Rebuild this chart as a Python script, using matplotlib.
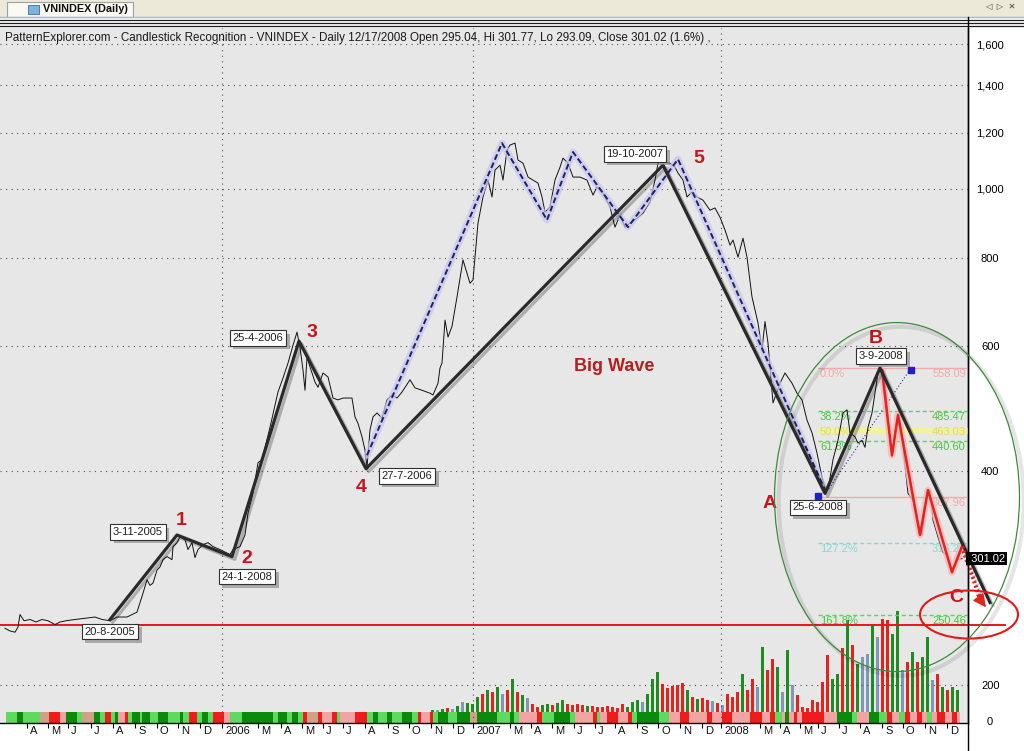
import matplotlib.pyplot as plt
import matplotlib.patheffects as pe
from matplotlib.patches import Ellipse, Rectangle
from matplotlib.lines import Line2D
from matplotlib.transforms import IdentityTransform
from matplotlib.ticker import NullLocator

plt.rcParams['font.family'] = ['Liberation Sans', 'DejaVu Sans']

# x = trading session index, first tick of each month
month_pos = [27, 48, 68, 91, 113, 135, 157, 178, 200,
             222, 258, 281, 302, 323, 343, 365, 388, 409, 431, 453,
             473, 510, 531, 552, 574, 595, 615, 637, 658, 680, 702,
             721, 760, 780, 800, 818, 839, 860, 882, 903, 925, 947]
month_lab = ['A', 'M', 'J', 'J', 'A', 'S', 'O', 'N', 'D',
             '2006', 'M', 'A', 'M', 'J', 'J', 'A', 'S', 'O', 'N', 'D',
             '2007', 'M', 'A', 'M', 'J', 'J', 'A', 'S', 'O', 'N', 'D',
             '2008', 'M', 'A', 'M', 'J', 'J', 'A', 'S', 'O', 'N', 'D']

price_ticks = [200, 400, 600, 800, 1000, 1200, 1400, 1600]
price_tick_lab = ['200', '400', '600', '800', '1,000', '1,200', '1,400', '1,600']

# VNINDEX close
price_x = [5, 10, 15, 18, 20, 24, 30, 36, 42, 48, 55, 60, 66, 75, 85, 95, 102, 110,
           117, 127, 137, 143, 147, 150, 153, 157, 160, 163, 167, 172, 173, 177, 180, 185, 188, 192,
           195, 198, 203, 208, 213, 220, 226, 230, 233, 240, 245, 248, 253, 258, 262, 270, 278, 283,
           288, 293, 297, 300, 303, 305, 307, 310, 315, 318, 323, 328, 333, 338, 343, 348, 352, 355,
           358, 362, 365, 367, 370, 373, 377, 382, 387, 392, 397, 402, 410, 415, 422, 430, 433, 438,
           440, 442, 445, 448, 452, 457, 463, 470, 473, 478, 483, 488, 492, 495, 500, 503, 507, 510,
           515, 518, 523, 528, 533, 538, 542, 545, 550, 555, 560, 563, 568, 573, 580, 587, 593, 597,
           603, 610, 615, 620, 625, 630, 637, 643, 650, 655, 658, 663, 670, 675, 678, 683, 687, 692,
           697, 703, 710, 715, 720, 725, 730, 733, 738, 743, 747, 752, 758, 762, 765, 768, 773, 780,
           785, 792, 797, 802, 807, 812, 817, 822, 825, 828, 833, 838, 843, 847, 850, 855, 858, 862,
           865, 868, 872, 875, 878, 882, 885, 888, 892, 895, 900, 903, 908, 913, 918, 922, 927, 930,
           933, 938, 943, 947, 952, 957, 962]
price_y = [240, 238, 237, 241, 251, 246, 247, 245, 247, 246, 243, 245, 246, 247, 248, 249, 247, 246,
           249, 249, 253, 269, 281, 276, 278, 290, 293, 300, 303, 300, 313, 317, 323, 320, 310, 317,
           302, 310, 315, 317, 313, 310, 307, 305, 310, 313, 325, 349, 372, 411, 415, 461, 517, 541,
           568, 602, 628, 598, 555, 520, 579, 561, 534, 525, 550, 543, 507, 504, 507, 507, 507, 477,
           467, 447, 428, 405, 457, 477, 483, 475, 504, 512, 507, 517, 538, 524, 520, 515, 512, 532,
           559, 568, 653, 618, 640, 704, 794, 736, 744, 895, 974, 1029, 974, 1063, 1080, 1029, 1134, 1153,
           1160, 1098, 1087, 1039, 1029, 1019, 974, 927, 943, 1029, 1073, 1105, 1087, 1039, 1039, 1029, 980, 1006,
           986, 943, 883, 918, 883, 895, 909, 924, 958, 1029, 1087, 1091, 1087, 1073, 1053, 1029, 974, 990,
           974, 964, 933, 940, 912, 875, 833, 847, 801, 852, 801, 704, 647, 593, 650, 606, 499, 532,
           550, 532, 515, 504, 472, 453, 424, 392, 380, 376, 415, 442, 483, 488, 453, 447, 438, 442,
           432, 461, 483, 515, 550, 555, 543, 472, 419, 457, 472, 432, 372, 364, 338, 325, 372, 376,
           341, 323, 307, 305, 290, 300, 301]
last_close = 301.02

# Elliott wave pivots (thick black line)
wave_x = [110, 177, 232, 299, 366, 663, 825, 880, 990]
wave_y = [247, 325, 303, 610, 403, 1080, 372, 559, 261]
wave_dates = ['20-8-2005', '3-11-2005', '24-1-2008', '25-4-2006', '27-7-2006',
              '19-10-2007', '25-6-2008', '3-9-2008', None]
wave_names = [None, '1', '2', '3', '4', '5', 'A', 'B', 'C']

# inner swings (dashed navy) and C-leg sub-waves (red)
dash_x = [367, 502, 547, 573, 628, 678, 825]
dash_y = [421, 1160, 904, 1127, 883, 1101, 376]
red_x = [882, 892, 898, 920, 928, 952, 962]
red_y = [555, 421, 480, 325, 376, 288, 313]
target_y = 257
support_y = 243

# Fibonacci projection of the A-B swing
fib_start = 818
fib_pct = ['0.0%', '38.2%', '50.0%', '61.8%', '100.0%', '127.2%', '161.8%']
fib_val = [558.09, 485.47, 463.03, 440.60, 367.96, 316.24, 250.46]

# weekly volume (5-session bins from session 430)
vol_start = 430
vol = [2, 2, 3, 4, 3, 6, 10, 9, 8, 15, 18, 22, 20, 25, 18, 22, 33, 20, 17, 14,
       8, 5, 7, 8, 7, 9, 12, 8, 7, 8, 7, 6, 6, 5, 5, 6, 5, 4, 8, 5,
       10, 12, 10, 18, 33, 40, 28, 24, 26, 27, 29, 22, 15, 13, 14, 12, 11, 9, 7, 18,
       15, 20, 38, 22, 33, 25, 65, 42, 53, 45, 20, 62, 27, 17, 5, 4, 12, 10, 30, 57,
       33, 38, 64, 92, 67, 48, 55, 58, 87, 75, 93, 92, 78, 101, 42, 50, 60, 50, 55, 75,
       32, 38, 25, 22, 25, 22]
vol_col = ('gbgrbg' 'bgggrgrgbr' 'grgbrrggrg' 'grrrrgrrrr' 'rrrgggbggg' 'rrrrrgrgrr'
           'brbrrrgrrb' 'grrgbgbrrr' 'rrrrggrgrg' 'bbgbrrggbr' 'grggbrgrgg')

# indicator strip under the volume bars (segment starts, last value = end)
strip_start = [6, 17, 23, 40, 49, 60, 66, 77, 82, 94, 100, 105, 111, 115, 118, 125, 128, 132, 140, 142,
               150, 158, 168, 180, 183, 189, 197, 202, 208, 213, 224, 230, 242, 273, 278, 287, 292, 298, 303, 307,
               318, 322, 332, 337, 340, 355, 367, 373, 378, 387, 392, 402, 412, 418, 421, 430, 433, 438, 448, 457,
               470, 477, 497, 510, 514, 519, 537, 542, 554, 570, 575, 593, 597, 600, 607, 618, 628, 632, 637, 659,
               669, 680, 689, 707, 712, 722, 732, 750, 762, 770, 775, 782, 785, 789, 794, 797, 802, 824, 837, 852,
               857, 869, 879, 887, 892, 899, 905, 910, 917, 922, 927, 932, 937, 945, 952, 957, 960]
strip_code = ('gGgtrpGgtGgrgGprgGgG' 'gGgGgrgGgrpgGgGgGgrt' 'rprgprgGgGgGgrprgGgG'
              'tGgGgprgGgprgprprgGg' 'prprprprprgpGprprpGg' 'pGgrpgrprpgprprp')

col_vol = {'g': '#1E8C1E', 'r': '#E5221B', 'b': '#7F98BA'}
col_strip = {'G': '#0B8A0B', 'g': '#5EDB5E', 'p': '#F4A3A3', 'r': '#EE1C1C', 't': '#CFA286'}
dark_red = '#C4161C'

W, H = 1024, 751
fig = plt.figure(figsize=(W / 100, H / 100), dpi=100, facecolor='white')
rect = [0, (H - 723) / H, 968 / W, (723 - 28) / H]

# volume pane (drawn underneath the price pane)
vax = fig.add_axes(rect)
vax.set_facecolor('#E7E7E7')
vax.set_xlim(0, 968)
vax.set_ylim(-11, 684)
vax.set_xticks([])
vax.set_yticks([])
for s in vax.spines.values():
    s.set_visible(False)
for i, c in enumerate(strip_code):
    vax.bar(strip_start[i], 11, width=strip_start[i + 1] - strip_start[i], bottom=-11,
            align='edge', color=col_strip[c], linewidth=0)
vx = [vol_start + 5 * i + 2.5 for i in range(len(vol))]
vax.bar(vx, vol, width=3.2, color=[col_vol[c] for c in vol_col], linewidth=0)

# price pane
ax = fig.add_axes(rect, facecolor='none')
ax.set_yscale('log')
ax.set_xlim(0, 968)
ax.set_ylim(176.5, 1686)
for s in ['top', 'left']:
    ax.spines[s].set_visible(False)
ax.spines['bottom'].set_linewidth(1.0)
ax.spines['right'].set_linewidth(1.0)

ax.yaxis.tick_right()
ax.set_yticks(price_ticks)
ax.set_yticklabels(price_tick_lab)
ax.yaxis.set_minor_locator(NullLocator())
ax.tick_params(axis='y', length=0, pad=16, labelsize=8)
for lbl in ax.get_yticklabels():
    lbl.set_ha('center')

ax.set_xticks(month_pos)
ax.set_xticklabels([])
ax.tick_params(axis='x', direction='out', length=3.5, width=0.8)
for p, lab in zip(month_pos, month_lab):
    ax.text(p + 3, -0.012, lab, transform=ax.get_xaxis_transform(), ha='left', va='center',
            fontsize=8, color='#111111')
    if len(lab) == 4:
        ax.axvline(p, color='#505050', lw=0.8, ls=(0, (1, 4)), zorder=1)
for v in price_ticks:
    ax.axhline(v, color='#505050', lw=0.8, ls=(0, (1, 4)), zorder=1)

# support line
ax.plot([0, 1005], [support_y, support_y], color='#E8161B', lw=1.4, clip_on=False, zorder=3)

# price
ax.plot(price_x, price_y, color='#111111', lw=0.7, zorder=4)

# dashed inner swings with glow
ax.plot(dash_x, dash_y, color='#C6C6EE', lw=5, alpha=0.7, solid_capstyle='round', zorder=4)
ax.plot(dash_x, dash_y, color='#1E1E6A', lw=1.4, ls=(0, (3, 1.6)), zorder=5)

# A -> B dotted projection with anchors
ax.plot([829, 910], [378, 556], color='#2B2B8C', lw=0.8, ls=(0, (1, 2)), zorder=5)
ax.plot([818, 911], [369, 556], ls='none', marker='s', ms=4, color='#2020C8', zorder=6)

# Fibonacci levels
fib_style = {'0.0%': ('#F2AAAA', '-'), '100.0%': ('#F2AAAA', '-'),
             '38.2%': ('#55D855', (0, (3, 2))), '61.8%': ('#55D855', (0, (3, 2))),
             '161.8%': ('#55D855', (0, (3, 2))), '127.2%': ('#8AD6D6', (0, (3, 2))),
             '50.0%': ('#F0F08C', '-')}
for name, val in zip(fib_pct, fib_val):
    c, ls = fib_style[name]
    if name == '50.0%':
        ax.fill_between([fib_start, 968], val * 0.975, val * 0.995, color='#F2F29A', lw=0, zorder=3)
        tc = '#DADA78'
    else:
        ax.plot([fib_start, 968], [val, val], color=c, lw=1.0, ls=ls, zorder=3)
        tc = c if name not in ('38.2%', '61.8%', '161.8%') else '#3FCB3F'
    if name != '100.0%':
        # the 100% tag sits under the 25-6-2008 box in the original
        ax.annotate(name, (fib_start + 2, val), xytext=(0, -1), textcoords='offset pixels',
                    ha='left', va='top', fontsize=8, color=tc, zorder=3)
    ax.annotate('%.2f' % val, (966, val), xytext=(0, -1), textcoords='offset pixels',
                ha='right', va='top', fontsize=8, color=tc, zorder=3)

# C-leg red sub-waves with glow
ax.plot(red_x, red_y, color='#F6B8B8', lw=5, alpha=0.8, solid_capstyle='round', zorder=6)
ax.plot(red_x, red_y, color='#E2231F', lw=1.8, zorder=7)

# main wave
ax.plot(wave_x, wave_y, color='#2A2A2A', lw=2.3, clip_on=False, zorder=8,
        path_effects=[pe.SimpleLineShadow(offset=(2, -2), alpha=0.25), pe.Normal()])

# projected target arrow
ax.plot([red_x[-1], 981], [red_y[-1], target_y * 1.02], color='#E2231F', lw=3.0,
        ls=(0, (0.5, 0.6)), clip_on=False, zorder=9,
        path_effects=[pe.SimpleLineShadow(offset=(2, -2), alpha=0.2), pe.Normal()])
ax.annotate('', xy=(986, target_y), xytext=(977, target_y * 1.04),
            arrowprops=dict(arrowstyle='-|>', color='#E2231F', lw=1, mutation_scale=20,
                            shrinkA=0, shrinkB=0),
            annotation_clip=False, zorder=9)

# date boxes
date_off = [(0, -12), (-39, 3), (15, -20), (-41, 3), (41, -7), (-28, 11), (-7, -14), (1, 12)]
for x, y, d, off in zip(wave_x, wave_y, wave_dates, date_off):
    t = ax.annotate(d, (x, y), xytext=off, textcoords='offset pixels', ha='center', va='center',
                    fontsize=8, color='#202020', zorder=10,
                    bbox=dict(boxstyle='square,pad=0.25', fc='white', ec='#303030', lw=0.8))
    t.get_bbox_patch().set_path_effects([pe.SimplePatchShadow(offset=(2.5, -2.5),
                                                              shadow_rgbFace='#808080', alpha=0.6),
                                         pe.Normal()])

# wave numbers
name_off = [(4, 14), (15, -2), (13, 9), (-5, -19), (36, 7), (-55, -10), (-4, 29), (-34, 5)]
for x, y, n, off in zip(wave_x[1:], wave_y[1:], wave_names[1:], name_off):
    ax.annotate(n, (x, y), xytext=off, textcoords='offset pixels', ha='center', va='center',
                fontsize=14, fontweight='bold', color=dark_red, zorder=10, annotation_clip=False)

ax.text(614, 562, 'Big Wave', ha='center', va='center', fontsize=13, fontweight='bold',
        color='#B3201E', zorder=10)

# ellipses (sizes in pixels, centred on data points)
def px_ellipse(xd, yd, w, h, **kw):
    cx, cy = ax.transData.transform((xd, yd))
    e = Ellipse((cx, cy), w, h, transform=IdentityTransform(), fill=False, **kw)
    fig.add_artist(e)
    return e

px_ellipse(897, 367.6, 245, 349, ec='#3C8A3C', lw=0.9, zorder=9,
           path_effects=[pe.SimpleLineShadow(offset=(3, -3), alpha=0.1, linewidth=3), pe.Normal()])
px_ellipse(969, 251, 98, 48, ec='#E01A1A', lw=1.5, zorder=9)

# last price tag
ax.text(1.0, last_close, ' %.2f' % last_close, transform=ax.get_yaxis_transform(), ha='left',
        va='center', color='white', fontsize=8,
        bbox=dict(boxstyle='square,pad=0.15', fc='black', ec='none'), clip_on=False, zorder=11)

fig.text(990 / W, 1 - 722 / H, '0', ha='center', va='center', fontsize=8)

# title line
fig.text(5 / W, 1 - 38 / H, 'PatternExplorer.com - Candlestick Recognition - VNINDEX - Daily 12/17/2008 '
         'Open 295.04, Hi 301.77, Lo 293.09, Close 301.02 (1.6%) ,', ha='left', va='center',
         fontsize=8.4, color='#1A1A1A')

# window chrome
fig.add_artist(Rectangle((0, 1 - 17 / H), 1, 17 / H, transform=fig.transFigure,
                         fc='#ECE9D8', ec='none'))
fig.add_artist(Rectangle((7 / W, 1 - 17 / H), 126 / W, 15 / H, transform=fig.transFigure,
                         fc='#FAF9F4', ec='#9AA2A6', lw=0.8))
fig.add_artist(Rectangle((28 / W, 1 - 14 / H), 11 / W, 9 / H, transform=fig.transFigure,
                         fc='#7FB2E0', ec='#3A6EA8', lw=0.6))
fig.text(43 / W, 1 - 9.5 / H, 'VNINDEX (Daily)', ha='left', va='center', fontsize=7.8,
         fontweight='bold', color='#101010')
fig.text(1000 / W, 1 - 7 / H, '\u25c1  \u25b7  \u2715', ha='center', va='center', fontsize=6,
         color='#404040', family='DejaVu Sans')
fig.add_artist(Line2D([0, 1], [1 - 16.5 / H] * 2, transform=fig.transFigure, color='#A4B6CA', lw=1))
for yy in (19.5, 22.5, 25.5):
    fig.add_artist(Line2D([0, 1], [1 - yy / H] * 2, transform=fig.transFigure, color='#1E1E1E', lw=0.9))
fig.add_artist(Line2D([968 / W, 968 / W], [0, 1 - 17 / H], transform=fig.transFigure,
                      color='black', lw=1))

fig.savefig('out.png', dpi=100, facecolor='white')
